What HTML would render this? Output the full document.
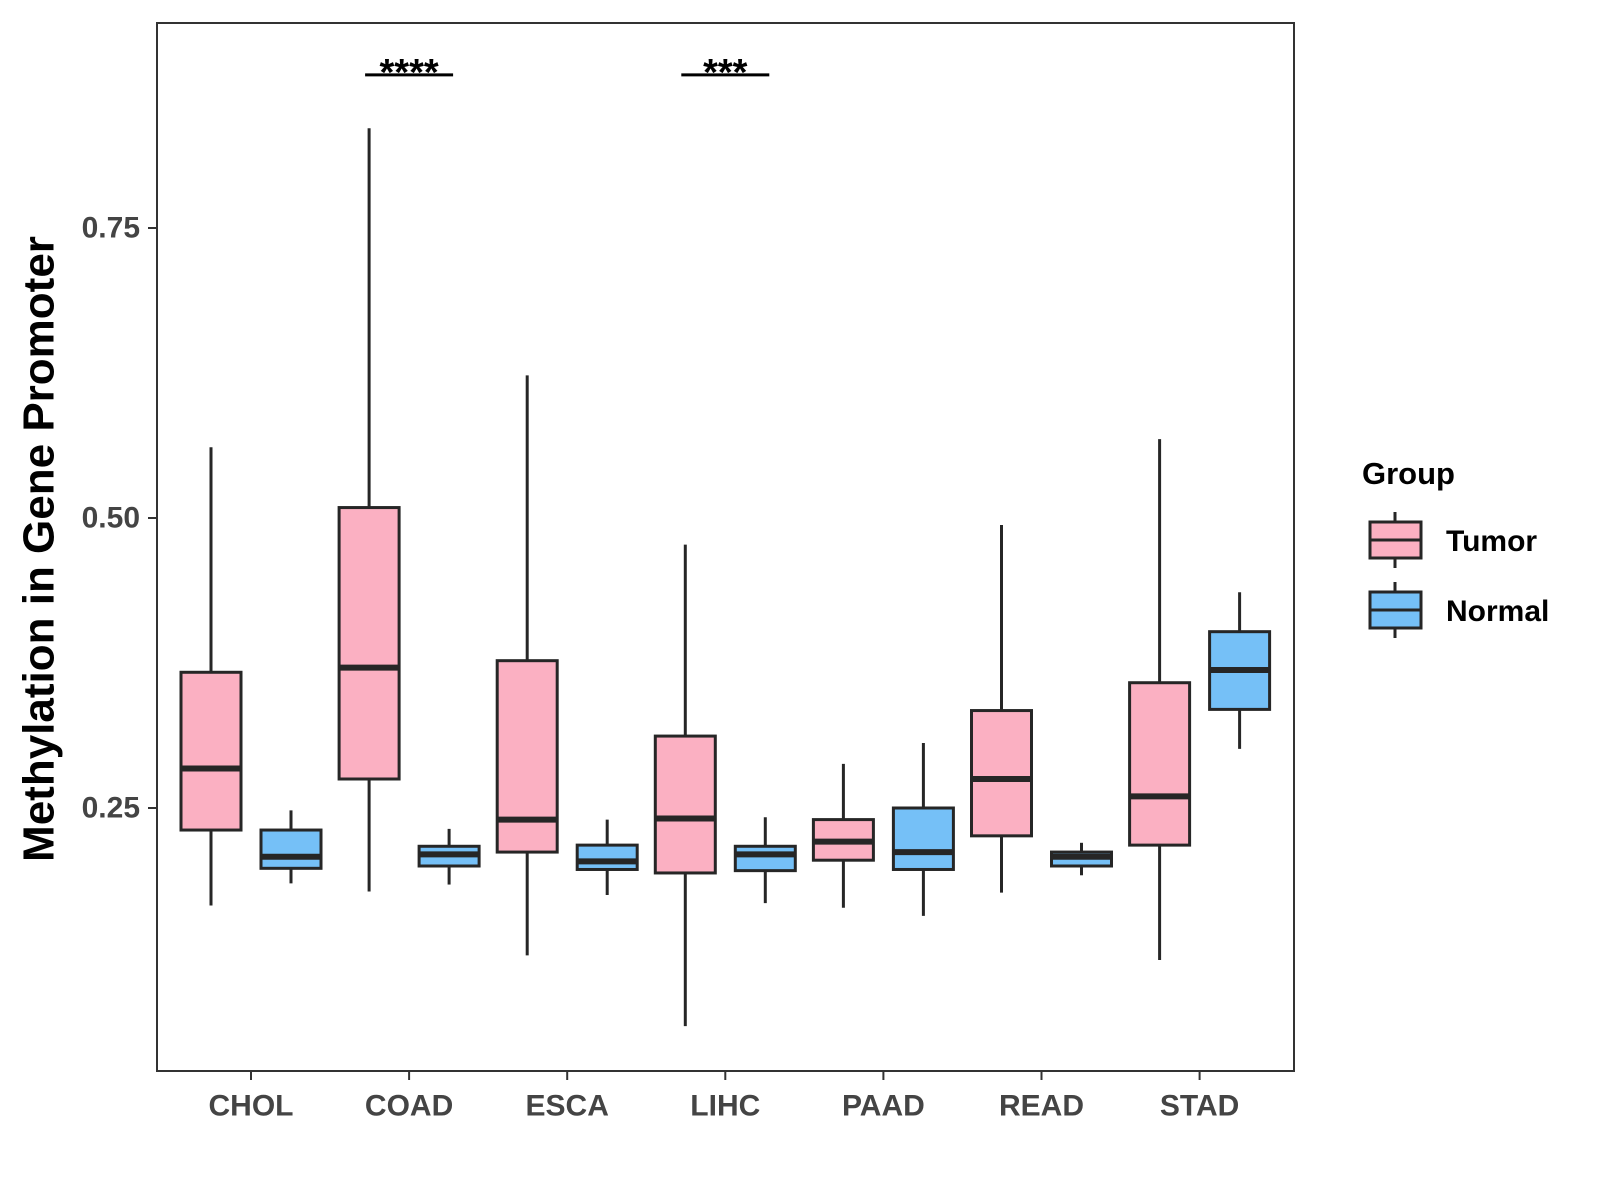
<!DOCTYPE html>
<html><head><meta charset="utf-8"><style>body{margin:0;background:#fff}svg{display:block}text{font-family:"Liberation Sans",Arial,sans-serif;font-weight:bold}</style></head>
<body>
<svg id="chart" width="1600" height="1200" viewBox="0 0 1600 1200" xmlns="http://www.w3.org/2000/svg">
<rect x="157" y="23" width="1137" height="1048" fill="#fff" stroke="#333" stroke-width="2"/>
<g id="marks"></g>
<text x="39" y="549" transform="rotate(-90 39 549)" text-anchor="middle" dominant-baseline="central" font-size="44" fill="#000">Methylation in Gene Promoter</text>
<text x="1362" y="484" font-size="31" fill="#000">Group</text>
<g>
<line x1="1395" y1="512" x2="1395" y2="568" stroke="#262626" stroke-width="3"/>
<rect x="1370" y="522" width="51" height="36" fill="#fbb0c2" stroke="#262626" stroke-width="3"/>
<line x1="1370" y1="540" x2="1421" y2="540" stroke="#262626" stroke-width="3"/>
<text x="1446" y="551" font-size="30" fill="#000">Tumor</text></g>
<g>
<line x1="1395" y1="582" x2="1395" y2="638" stroke="#262626" stroke-width="3"/>
<rect x="1370" y="592" width="51" height="36" fill="#75c0f7" stroke="#262626" stroke-width="3"/>
<line x1="1370" y1="610" x2="1421" y2="610" stroke="#262626" stroke-width="3"/>
<text x="1446" y="621" font-size="30" fill="#000">Normal</text></g>
</svg>
<script>
const categories=["CHOL","COAD","ESCA","LIHC","PAAD","READ","STAD"];
const tumorLow=[0.166,0.178,0.123,0.062,0.164,0.177,0.119];
const tumorQ1=[0.231,0.275,0.212,0.194,0.205,0.226,0.218];
const tumorMed=[0.284,0.371,0.240,0.241,0.221,0.275,0.260];
const tumorQ3=[0.367,0.509,0.377,0.312,0.240,0.334,0.358];
const tumorHigh=[0.561,0.836,0.623,0.477,0.288,0.494,0.568];
const normalLow=[0.185,0.184,0.175,0.168,0.157,0.192,0.301];
const normalQ1=[0.198,0.200,0.197,0.196,0.197,0.200,0.335];
const normalMed=[0.208,0.210,0.204,0.210,0.212,0.208,0.369];
const normalQ3=[0.231,0.217,0.218,0.217,0.250,0.212,0.402];
const normalHigh=[0.248,0.232,0.240,0.242,0.306,0.220,0.436];
const yTicks=[0.25,0.50,0.75];
const yTickLabels=["0.25","0.50","0.75"];
const sigCats=["COAD","LIHC"];
const sigLabels=["****","***"];
const sigValue=0.882;

const NS="http://www.w3.org/2000/svg";
const g=document.getElementById('marks');
const y=v=>808-(v-0.25)*1160;
const x=i=>251+i*158.1;
function mk(t,a,p){const e=document.createElementNS(NS,t);for(const k in a)e.setAttribute(k,a[k]);(p||g).appendChild(e);return e;}
yTicks.forEach((v,i)=>{
  const tk=mk('line',{x1:148,x2:157,y1:y(v),y2:y(v),stroke:'#333','stroke-width':2});
  
  
  const t=mk('text',{x:140,y:y(v),'text-anchor':'end','dominant-baseline':'central','font-size':30,fill:'#444'});
  t.textContent=yTickLabels[i];
  
  
});
categories.forEach((c,i)=>{
  const tk=mk('line',{x1:x(i),x2:x(i),y1:1071,y2:1080,stroke:'#333','stroke-width':2});
  
  
  const t=mk('text',{x:x(i),y:1106,'text-anchor':'middle','dominant-baseline':'central','font-size':30,fill:'#444'});
  t.textContent=c;
  
  
  [[-40,'#fbb0c2',tumorLow,tumorQ1,tumorMed,tumorQ3,tumorHigh,'tumor'],[40,'#75c0f7',normalLow,normalQ1,normalMed,normalQ3,normalHigh,'normal']].forEach(s=>{
    const cx=x(i)+s[0];
    const grp=mk('g',{});
    
    
    mk('line',{x1:cx,x2:cx,y1:y(s[6][i]),y2:y(s[2][i]),stroke:'#262626','stroke-width':3},grp);
    mk('rect',{x:cx-30,y:y(s[5][i]),width:60,height:y(s[3][i])-y(s[5][i]),fill:s[1],stroke:'#262626','stroke-width':3},grp);
    mk('line',{x1:cx-30,x2:cx+30,y1:y(s[4][i]),y2:y(s[4][i]),stroke:'#262626','stroke-width':6},grp);
  });
});
sigCats.forEach((c,k)=>{
  const i=categories.indexOf(c);
  const l=mk('line',{x1:x(i)-44,x2:x(i)+44,y1:y(sigValue),y2:y(sigValue),stroke:'#000','stroke-width':3});
  
  
  const t=mk('text',{x:x(i),y:y(sigValue)+10,'text-anchor':'middle','font-size':38,fill:'#000'});
  t.textContent=sigLabels[k];
  
  
});
</script>
</body></html>
